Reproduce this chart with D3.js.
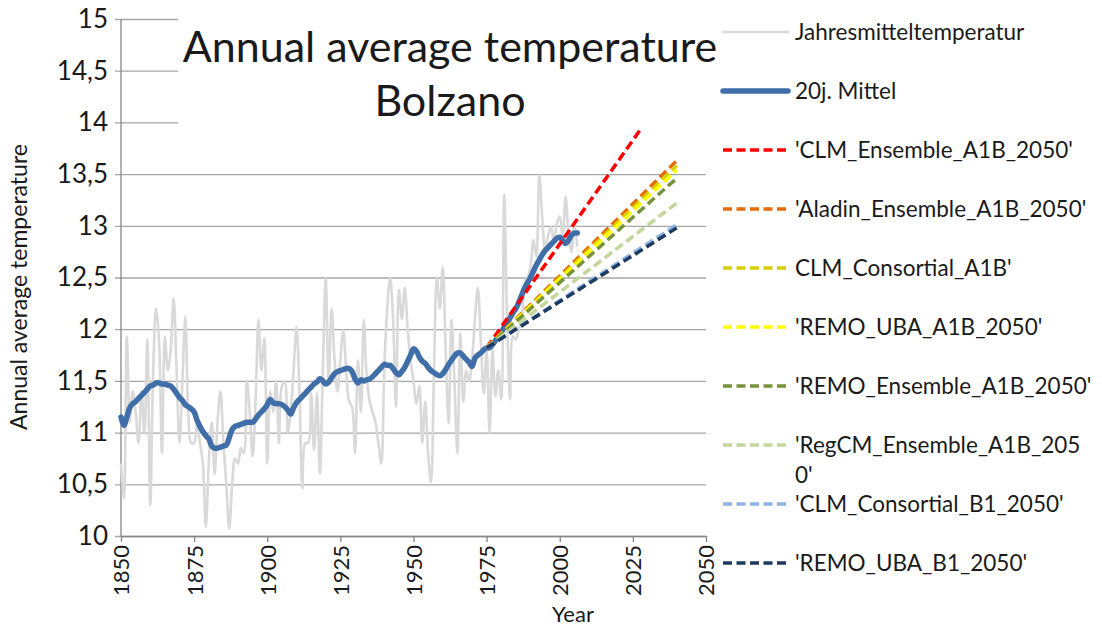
<!DOCTYPE html>
<html>
<head>
<meta charset="utf-8">
<script src="https://cdn.jsdelivr.net/npm/d3@7"></script>
<style>
  body { margin: 0; background: #fff; }
  text { font-family: Lato, "Open Sans", sans-serif; fill: #1a1a1a; }
</style>
</head>
<body>
<svg id="chart" width="1102" height="628"></svg>
<script>
// Bolzano annual mean temperature (°C), one value per year from firstYear
const firstYear = 1850;
const annualTemp = [
  10.7, 10.36, 11.93, 11.1, 11.4, 11.2, 10.9, 11.4, 10.99, 11.9,
  10.3, 11.6, 12.2, 11.9, 10.8, 11.93, 11.6, 11.8, 12.3, 11.6,
  10.9, 11.5, 12.12, 11.2, 10.9, 10.9, 11.1, 10.9, 10.7, 10.09,
  10.7, 11.1, 10.6, 11.1, 11.4, 10.9, 10.5, 10.07, 10.5, 10.75,
  10.7, 10.85, 10.8, 11.5, 11.2, 10.77, 11.3, 12.09, 11.6, 11.91,
  10.7, 11.4, 11.2, 11.5, 10.9, 11.45, 11.49, 11.0, 11.2, 11.6,
  12.02, 11.4, 10.46, 10.9, 10.9, 11.38, 10.83, 11.38, 10.6, 11.6,
  12.49, 11.5, 12.2, 11.7, 11.4, 11.7, 11.99, 11.6, 11.3, 11.25,
  10.8, 11.7, 11.2, 12.09, 11.55, 11.3, 11.2, 11.1, 10.9, 10.7,
  11.6, 12.2, 12.5, 12.12, 11.25, 12.38, 12.1, 12.4, 12.0, 11.7,
  11.5, 11.28, 11.45, 10.9, 11.3, 10.8, 10.52, 11.6, 12.5, 12.2,
  12.6, 11.8, 11.09, 12.09, 11.5, 10.8, 11.96, 11.3, 11.6, 11.5,
  11.7, 12.1, 12.4, 11.9, 11.38, 11.8, 11.0, 11.8, 11.35, 11.6,
  11.32, 13.3, 12.1, 11.32, 11.93, 11.9, 12.0, 12.1, 12.44, 12.5,
  12.6, 12.86, 12.7, 13.49, 13.09, 12.77, 12.9, 12.99, 12.85, 13.02,
  13.09, 12.9, 13.28, 12.93, 12.75, 13.0, 12.8
];

// 20-year running mean, same years
const mean20 = [
  11.15, 11.07, 11.15, 11.24, 11.28, 11.30, 11.33, 11.36, 11.39, 11.42,
  11.45, 11.46, 11.48, 11.48, 11.47, 11.47, 11.46, 11.45, 11.42, 11.38,
  11.34, 11.31, 11.27, 11.25, 11.23, 11.20, 11.12, 11.06, 11.01, 10.97,
  10.94, 10.87, 10.85, 10.85, 10.86, 10.87, 10.88, 10.95, 11.03, 11.06,
  11.07, 11.08, 11.09, 11.10, 11.10, 11.10, 11.13, 11.17, 11.20, 11.23,
  11.27, 11.32, 11.29, 11.28, 11.28, 11.27, 11.25, 11.22, 11.18, 11.24,
  11.29, 11.32, 11.35, 11.38, 11.41, 11.44, 11.47, 11.49, 11.52, 11.50,
  11.47, 11.49, 11.53, 11.57, 11.59, 11.60, 11.61, 11.62, 11.62, 11.59,
  11.52, 11.48, 11.51, 11.50, 11.51, 11.52, 11.54, 11.57, 11.60, 11.63,
  11.66, 11.65, 11.65, 11.62, 11.58, 11.56, 11.59, 11.63, 11.69, 11.75,
  11.81, 11.79, 11.73, 11.69, 11.67, 11.63, 11.60, 11.58, 11.56, 11.55,
  11.57, 11.61, 11.66, 11.70, 11.74, 11.77, 11.77, 11.74, 11.71, 11.68,
  11.64, 11.72, 11.75, 11.77, 11.80, 11.82, 11.82, 11.85, 11.89, 11.93,
  11.97, 12.02, 12.06, 12.11, 12.16, 12.20, 12.26, 12.33, 12.40, 12.45,
  12.50, 12.56, 12.62, 12.67, 12.72, 12.76, 12.79, 12.82, 12.85, 12.88,
  12.89, 12.86, 12.83, 12.86, 12.91, 12.93, 12.93
];

// Regional climate model scenarios: straight trends from a common start
const scenarioNames = [
  "'CLM_Ensemble_A1B_2050'",
  "'Aladin_Ensemble_A1B_2050'",
  "CLM_Consortial_A1B'",
  "'REMO_UBA_A1B_2050'",
  "'REMO_Ensemble_A1B_2050'",
  "'RegCM_Ensemble_A1B_2050'",
  "'CLM_Consortial_B1_2050'",
  "'REMO_UBA_B1_2050'"
];
const scenarioColors = ["#FF0000", "#E46C0A", "#D8CF00", "#FFFF00", "#76923C", "#C3D69B", "#8DB4E2", "#1F3A60"];
const scenarioStartYear = 1975;
const scenarioStartTemp = 11.82;
const scenarioEndYear = 2040;
const scenarioEndTemp = [14.43, 13.63, 13.58, 13.54, 13.46, 13.22, 13.01, 12.98];

const xTicks = [1850, 1875, 1900, 1925, 1950, 1975, 2000, 2025, 2050];
const yTicks = [10, 10.5, 11, 11.5, 12, 12.5, 13, 13.5, 14, 14.5, 15];

const svg = d3.select("#chart");
const plot = { left: 121, right: 706, top: 19, bottom: 536 };

const x = d3.scaleLinear().domain([1850, 2050]).range([plot.left, plot.right]);
const y = d3.scaleLinear().domain([10, 15]).range([plot.bottom, plot.top]);
const fmt = v => String(v).replace(".", ",");

// horizontal gridlines and value labels
const yAxis = d3.axisLeft(y).tickValues(yTicks).tickSize(-(plot.right - plot.left)).tickSizeOuter(0).tickFormat(fmt).tickPadding(13);
const gy = svg.append("g").attr("transform", `translate(${plot.left},0)`).call(yAxis);
gy.select(".domain").remove();
gy.selectAll(".tick line").attr("stroke", "#A6A6A6").attr("stroke-width", 1.3).attr("x1", -6);
gy.selectAll(".tick text").attr("font-size", 26).attr("fill", "#1a1a1a").attr("font-family", "Lato, sans-serif");

// axis lines
svg.append("line").attr("x1", plot.left).attr("x2", plot.left).attr("y1", plot.top).attr("y2", plot.bottom)
  .attr("stroke", "#868686").attr("stroke-width", 1.3);
const xAxis = d3.axisBottom(x).tickValues(xTicks).tickSize(6).tickSizeOuter(0).tickFormat(d3.format("d"));
const gx = svg.append("g").attr("transform", `translate(0,${plot.bottom})`).call(xAxis);
gx.select(".domain").attr("stroke", "#868686").attr("stroke-width", 1.3);
gx.selectAll(".tick line").attr("stroke", "#868686").attr("stroke-width", 1.3);
gx.selectAll(".tick text")
  .attr("font-size", 22).attr("fill", "#1a1a1a").attr("font-family", "Lato, sans-serif")
  .attr("transform", "rotate(-90)")
  .attr("text-anchor", "end").attr("dy", "0.36em").attr("x", -9).attr("y", 0);

// series
const yearOf = i => firstYear + i;
const line = d3.line().x((d, i) => x(yearOf(i))).y(d => y(d)).curve(d3.curveCatmullRom.alpha(0.5));

svg.append("path").datum(annualTemp).attr("d", line)
  .attr("fill", "none").attr("stroke", "#D9D9D9").attr("stroke-width", 2.6).attr("stroke-linejoin", "round");

svg.append("path").datum(mean20).attr("d", line)
  .attr("fill", "none").attr("stroke", "#3F6EA8").attr("stroke-width", 5.5)
  .attr("stroke-linejoin", "round").attr("stroke-linecap", "round");

const dash = "9,4.5";
scenarioEndTemp.forEach((t, i) => {
  svg.append("line")
    .attr("x1", x(scenarioStartYear)).attr("y1", y(scenarioStartTemp))
    .attr("x2", x(scenarioEndYear)).attr("y2", y(t))
    .attr("stroke", scenarioColors[i]).attr("stroke-width", 3.5)
    .attr("stroke-dasharray", dash);
});

// chart title on a white box
svg.append("rect").attr("x", 178).attr("y", 14).attr("width", 545).attr("height", 116).attr("fill", "#fff");
const title = svg.append("text").attr("text-anchor", "middle").attr("font-size", 43);
title.append("tspan").attr("x", 450).attr("y", 62).text("Annual average temperature");
title.append("tspan").attr("x", 450).attr("y", 116).text("Bolzano");

// axis titles
svg.append("text").attr("transform", `translate(27,${287}) rotate(-90)`).attr("text-anchor", "middle")
  .attr("font-size", 23).text("Annual average temperature");
svg.append("text").attr("x", 573).attr("y", 622).attr("text-anchor", "middle").attr("font-size", 22).text("Year");

// legend (the RegCM entry wraps onto a second line)
const wrappedNames = { "'RegCM_Ensemble_A1B_2050'": ["'RegCM_Ensemble_A1B_205", "0'"] };
const legendItems = [
  { name: "Jahresmitteltemperatur", color: "#D9D9D9", width: 2.5, dash: null },
  { name: "20j. Mittel", color: "#3F6EA8", width: 5.5, dash: null }
].concat(scenarioNames.map((n, i) => ({ name: n, color: scenarioColors[i], width: 3.5, dash: dash })));

const legend = svg.append("g").attr("transform", "translate(723,32)");
legendItems.forEach((it, i) => {
  const g = legend.append("g").attr("transform", `translate(0,${i * 59})`);
  g.append("line").attr("x1", 0).attr("x2", 65).attr("y1", 0).attr("y2", 0)
    .attr("stroke", it.color).attr("stroke-width", it.width)
    .attr("stroke-linecap", it.dash ? "butt" : "round")
    .attr("stroke-dasharray", it.dash);
  const tx = g.append("text").attr("x", 72).attr("y", 0).attr("dy", "0.35em").attr("font-size", 22.5);
  const parts = wrappedNames[it.name];
  if (parts) {
    tx.append("tspan").attr("x", 72).text(parts[0]);
    tx.append("tspan").attr("x", 72).attr("dy", 30).text(parts[1]);
  } else {
    tx.text(it.name);
  }
});
</script>
</body>
</html>
